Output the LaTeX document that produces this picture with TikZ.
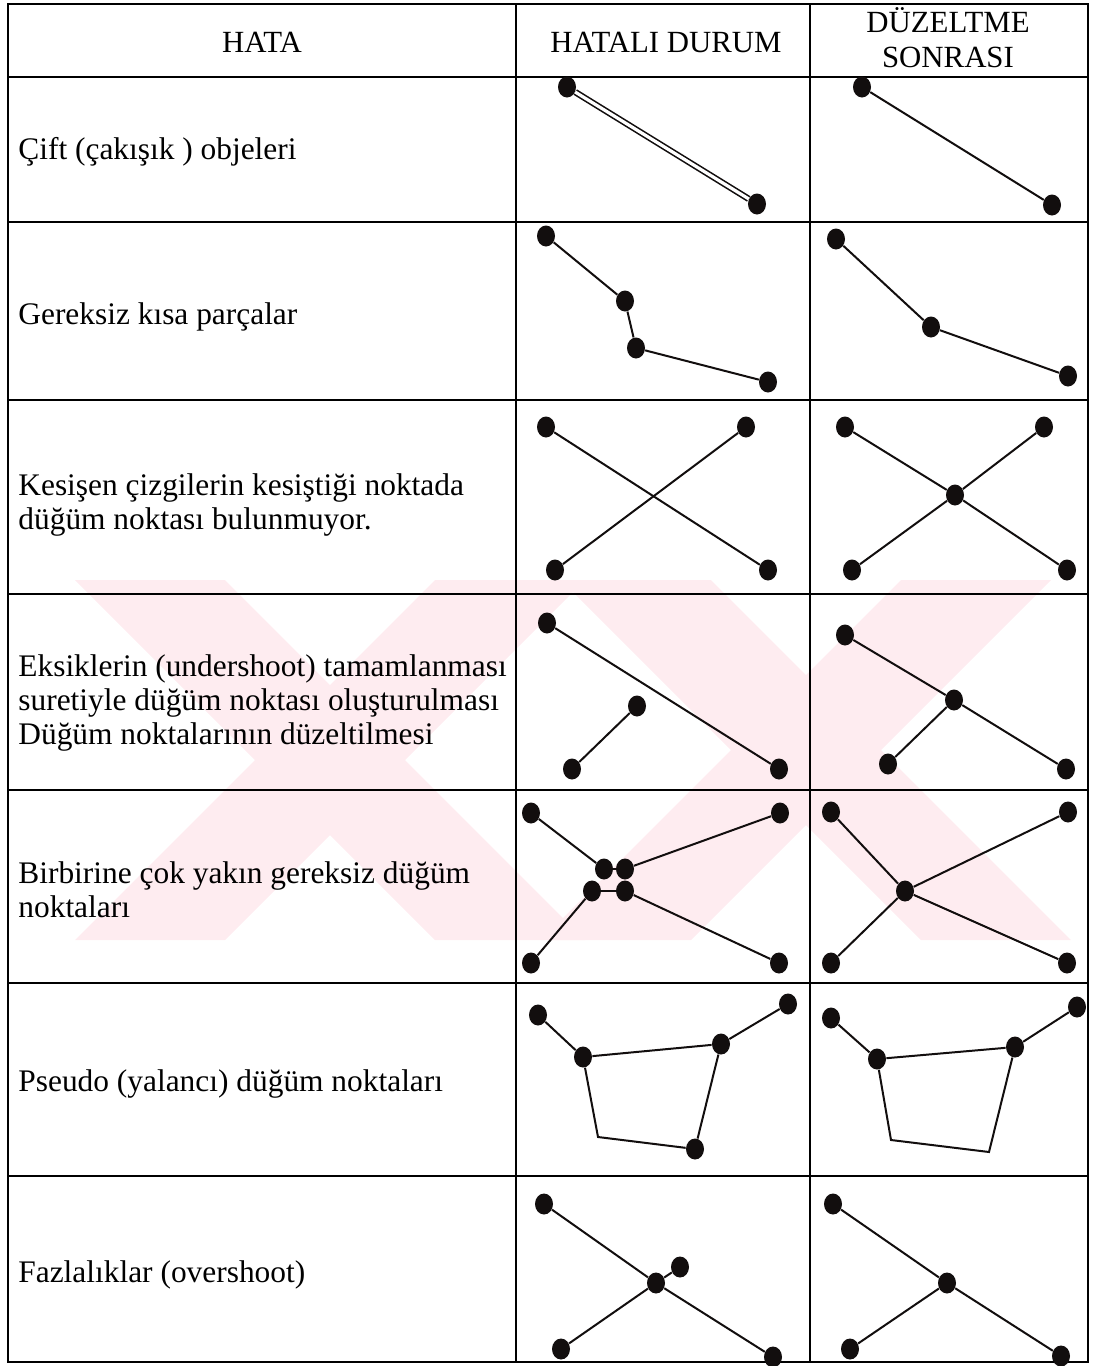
\documentclass[tikz,border=0pt]{standalone}
\usepackage{fontspec}
\setmainfont{Liberation Serif}
\usetikzlibrary{shapes.geometric}
\definecolor{wm}{RGB}{254,236,240}
\definecolor{ink}{RGB}{18,14,14}
\begin{document}
\begin{tikzpicture}[x=0.5pt,y=-0.5pt,
  dot/.style={ellipse,fill=ink,draw=none,minimum width=9pt,minimum height=10.5pt,inner sep=0pt},
  ln/.style={draw=ink,line width=1pt},
  gridline/.style={draw=black,line width=1pt},
  lbl/.style={font=\fontsize{15.7}{16.9}\selectfont,align=left,anchor=west,inner sep=0pt},
  hdr/.style={font=\fontsize{15.4}{17.5}\selectfont,align=center,inner sep=0pt}]
\useasboundingbox (0,0) rectangle (1094,1366);
% watermark
\begin{scope}
\clip (9,580) rectangle (1094,940);
\fill[wm] (75,580) -- (225,580) -- (585,940) -- (435,940) -- cycle;
\fill[wm] (435,580) -- (585,580) -- (225,940) -- (75,940) -- cycle;
\fill[wm] (561,580) -- (711,580) -- (1071,940) -- (921,940) -- cycle;
\fill[wm] (901,580) -- (1051,580) -- (691,940) -- (541,940) -- cycle;
\end{scope}
% table grid
\coordinate (TL) at (8,4);
\coordinate (BR) at (1088,1362);
\draw[gridline] (TL) rectangle (BR);
\foreach \yy in {77,222,400,594,790,983,1176}{\draw[gridline] (8,\yy) -- (1088,\yy);}
\foreach \xx in {516,810}{\draw[gridline] (\xx,4) -- (\xx,1362);}
% header
\node[hdr] (h1) at (262,42) {HATA};
\node[hdr] (h2) at (666,42) {HATALI DURUM};
\node[hdr] (h3) at (948,38) {DÜZELTME\\SONRASI};
% left labels
\node[lbl] (t1) at (18,152) {Çift (çakışık ) objeleri};
\node[lbl] (t2) at (18,317) {Gereksiz kısa parçalar};
\node[lbl] (t3) at (18,505) {Kesişen çizgilerin kesiştiği noktada\\düğüm noktası bulunmuyor.};
\node[lbl] (t4) at (18,703) {Eksiklerin (undershoot) tamamlanması\\suretiyle düğüm noktası oluşturulması\\Düğüm noktalarının düzeltilmesi};
\node[lbl] (t5) at (18,890) {Birbirine çok yakın gereksiz düğüm\\noktaları};
\node[lbl] (t6) at (18,1084) {Pseudo (yalancı) düğüm noktaları};
\node[lbl] (t7) at (18,1275) {Fazlalıklar (overshoot)};
% row 1
\node[dot] (a1) at (567,87) {};
\node[dot] (a2) at (757,204) {};
\draw[draw=ink,line width=0.8pt,double=white,double distance=1.6pt] (a1) -- (a2);
\node[dot] (b1) at (862,87) {};
\node[dot] (b2) at (1052,205) {};
\draw[ln] (b1) -- (b2);
% row 2
\node[dot] (c1) at (546,236) {};
\node[dot] (c2) at (625,301) {};
\node[dot] (c3) at (636,348) {};
\node[dot] (c4) at (768,382) {};
\draw[ln] (c1) -- (c2) -- (c3) -- (c4);
\node[dot] (d1) at (836,239) {};
\node[dot] (d2) at (931,327) {};
\node[dot] (d3) at (1068,376) {};
\draw[ln] (d1) -- (d2) -- (d3);
% row 3
\node[dot] (e1) at (546,427) {};
\node[dot] (e2) at (746,427) {};
\node[dot] (e3) at (555,570) {};
\node[dot] (e4) at (768,570) {};
\draw[ln] (e1) -- (e4);
\draw[ln] (e2) -- (e3);
\node[dot] (f1) at (845,427) {};
\node[dot] (f2) at (1044,427) {};
\node[dot] (f0) at (955,495) {};
\node[dot] (f3) at (852,570) {};
\node[dot] (f4) at (1067,570) {};
\draw[ln] (f1) -- (f0) -- (f4);
\draw[ln] (f2) -- (f0) -- (f3);
% row 4
\node[dot] (g1) at (547,623) {};
\node[dot] (g2) at (779,769) {};
\node[dot] (g3) at (637,706) {};
\node[dot] (g4) at (572,769) {};
\draw[ln] (g1) -- (g2);
\draw[ln] (g3) -- (g4);
\node[dot] (k1) at (845,635) {};
\node[dot] (k0) at (954,700) {};
\node[dot] (k2) at (1066,769) {};
\node[dot] (k3) at (888,764) {};
\draw[ln] (k1) -- (k0) -- (k2);
\draw[ln] (k0) -- (k3);
% row 5
\node[dot] (m1) at (531,813) {};
\node[dot] (m2) at (780,813) {};
\node[dot] (m3) at (604,869) {};
\node[dot] (m4) at (625,869) {};
\node[dot] (m5) at (592,891) {};
\node[dot] (m6) at (625,891) {};
\node[dot] (m7) at (531,963) {};
\node[dot] (m8) at (779,963) {};
\draw[ln] (m1) -- (m3);
\draw[ln] (m4) -- (m2);
\draw[ln] (m3) -- (m4);
\draw[ln] (m5) -- (m6);
\draw[ln] (m5) -- (m7);
\draw[ln] (m6) -- (m8);
\node[dot] (n1) at (831,812) {};
\node[dot] (n2) at (1068,812) {};
\node[dot] (n0) at (905,891) {};
\node[dot] (n3) at (831,963) {};
\node[dot] (n4) at (1067,963) {};
\draw[ln] (n1) -- (n0) -- (n4);
\draw[ln] (n2) -- (n0) -- (n3);
% row 6
\node[dot] (p1) at (538,1015) {};
\node[dot] (p2) at (583,1057) {};
\node[dot] (p3) at (721,1044) {};
\node[dot] (p4) at (788,1004) {};
\coordinate (pc) at (598,1137);
\node[dot] (p5) at (695,1149) {};
\draw[ln] (p1) -- (p2) -- (p3) -- (p4);
\draw[ln] (p2) -- (pc) -- (p5) -- (p3);
\node[dot] (q1) at (831,1018) {};
\node[dot] (q2) at (877,1059) {};
\node[dot] (q3) at (1015,1047) {};
\node[dot] (q4) at (1077,1007) {};
\coordinate (qc1) at (891,1140);
\coordinate (qc2) at (989,1152);
\draw[ln] (q1) -- (q2) -- (q3) -- (q4);
\draw[ln] (q2) -- (qc1) -- (qc2) -- (q3);
% row 7
\node[dot] (r1) at (544,1204) {};
\node[dot] (r0) at (656,1283) {};
\node[dot] (r2) at (680,1267) {};
\node[dot] (r3) at (561,1349) {};
\node[dot] (r4) at (773,1357) {};
\draw[ln] (r1) -- (r0) -- (r4);
\draw[ln] (r3) -- (r0) -- (r2);
\node[dot] (s1) at (833,1204) {};
\node[dot] (s0) at (947,1283) {};
\node[dot] (s3) at (850,1349) {};
\node[dot] (s4) at (1061,1356) {};
\draw[ln] (s1) -- (s0) -- (s4);
\draw[ln] (s3) -- (s0);
\end{tikzpicture}
\end{document}
